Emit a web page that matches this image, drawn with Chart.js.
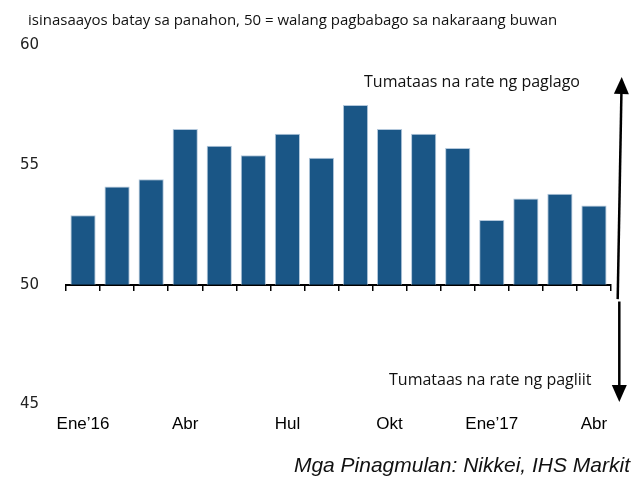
<!DOCTYPE html>
<html>
<head>
<meta charset="utf-8">
<script src="https://cdn.jsdelivr.net/npm/chart.js@4"></script>
<style>
    html, body { margin: 0; padding: 0; background: #ffffff; }
    #wrap { position: relative; width: 642px; height: 478px; }
</style>
</head>
<body>
<div id="wrap"><canvas id="pmiChart" width="642" height="478"></canvas></div>
<script>
// --- Data ---
const months = ['Ene’16', 'Peb', 'Mar', 'Abr', 'May', 'Hun', 'Hul', 'Ago', 'Set', 'Okt', 'Nob', 'Dis', 'Ene’17', 'Peb', 'Mar', 'Abr'];
const tickLabels = ['Ene’16', '', '', 'Abr', '', '', 'Hul', '', '', 'Okt', '', '', 'Ene’17', '', '', 'Abr'];
const pmiValues = [52.9, 54.1, 54.4, 56.5, 55.8, 55.4, 56.3, 55.3, 57.5, 56.5, 56.3, 55.7, 52.7, 53.6, 53.8, 53.3];
const yTicks = [45, 50, 55, 60];

// --- Texts ---
const subtitleText = 'isinasaayos batay sa panahon, 50 = walang pagbabago sa nakaraang buwan';
const upText = 'Tumataas na rate ng paglago';
const downText = 'Tumataas na rate ng pagliit';
const sourceText = 'Mga Pinagmulan: Nikkei, IHS Markit';

const barColor = '#1a5686';

// Arrow helper
function drawArrow(ctx, x1, y1, x2, y2) {
    const angle = Math.atan2(y2 - y1, x2 - x1);
    const headLen = 17;
    const headHalf = 7.5;
    const bx = x2 - headLen * Math.cos(angle);
    const by = y2 - headLen * Math.sin(angle);
    ctx.beginPath();
    ctx.moveTo(x1, y1);
    ctx.lineTo(bx, by);
    ctx.stroke();
    ctx.beginPath();
    ctx.moveTo(x2, y2);
    ctx.lineTo(bx + headHalf * Math.sin(angle), by - headHalf * Math.cos(angle));
    ctx.lineTo(bx - headHalf * Math.sin(angle), by + headHalf * Math.cos(angle));
    ctx.closePath();
    ctx.fill();
}

// Extra texts and arrows round the plot
const extrasPlugin = {
    id: 'extras',
    afterDraw(chart) {
        const ctx = chart.ctx;
        const y = chart.scales.y;
        ctx.save();
        ctx.fillStyle = '#111';
        ctx.textBaseline = 'alphabetic';

        ctx.font = '15px "Open Sans"';
        ctx.textAlign = 'left';
        ctx.fillText(subtitleText, 28, 25);

        ctx.font = '16px "Open Sans"';
        ctx.fillText(upText, 364, 87);
        ctx.fillText(downText, 389, 385);

        ctx.font = 'italic 21px "Liberation Sans"';
        ctx.textAlign = 'right';
        ctx.fillText(sourceText, 630, 472);

        ctx.strokeStyle = '#000';
        ctx.fillStyle = '#000';
        ctx.lineWidth = 2.5;
        drawArrow(ctx, 617.7, y.getPixelForValue(49.4), 621.7, 77);
        drawArrow(ctx, 619.3, y.getPixelForValue(49.3), 619.3, 402);
        ctx.restore();
    }
};

const ctx = document.getElementById('pmiChart');

new Chart(ctx, {
    type: 'bar',
    data: {
        labels: months,
        datasets: [{
            data: pmiValues,
            base: 50,
            backgroundColor: barColor,
            borderColor: '#b3c8dc',
            borderWidth: 1,
            borderSkipped: 'bottom',
            barPercentage: 0.74,
            categoryPercentage: 1.0,
            xAxisID: 'x'
        }]
    },
    options: {
        responsive: false,
        animation: false,
        layout: {
            padding: { top: 45, left: 8, right: 31, bottom: 41 }
        },
        plugins: {
            legend: { display: false },
            tooltip: { enabled: false }
        },
        scales: {
            x: {
                type: 'category',
                position: { y: 50 },
                offset: true,
                grid: {
                    display: true,
                    offset: true,
                    drawOnChartArea: false,
                    drawTicks: true,
                    tickLength: 5,
                    color: '#000',
                    lineWidth: 1.5
                },
                border: { display: true, color: '#000', width: 2 },
                ticks: { display: false }
            },
            x2: {
                type: 'category',
                labels: tickLabels,
                position: 'bottom',
                offset: true,
                grid: { display: false },
                border: { display: false },
                ticks: {
                    autoSkip: false,
                    maxRotation: 0,
                    padding: 2,
                    color: '#000',
                    font: { family: 'Liberation Sans', size: 17 }
                }
            },
            y: {
                min: 45,
                max: 60,
                afterBuildTicks: (scale) => {
                    scale.ticks = yTicks.map(v => ({ value: v }));
                },
                afterFit: (scale) => {
                    scale.width = 58;
                },
                grid: { display: false },
                border: { display: false },
                ticks: {
                    padding: 19,
                    color: '#222',
                    font: { family: 'DejaVu Sans', size: 15 }
                }
            }
        }
    },
    plugins: [extrasPlugin]
});
</script>
</body>
</html>
